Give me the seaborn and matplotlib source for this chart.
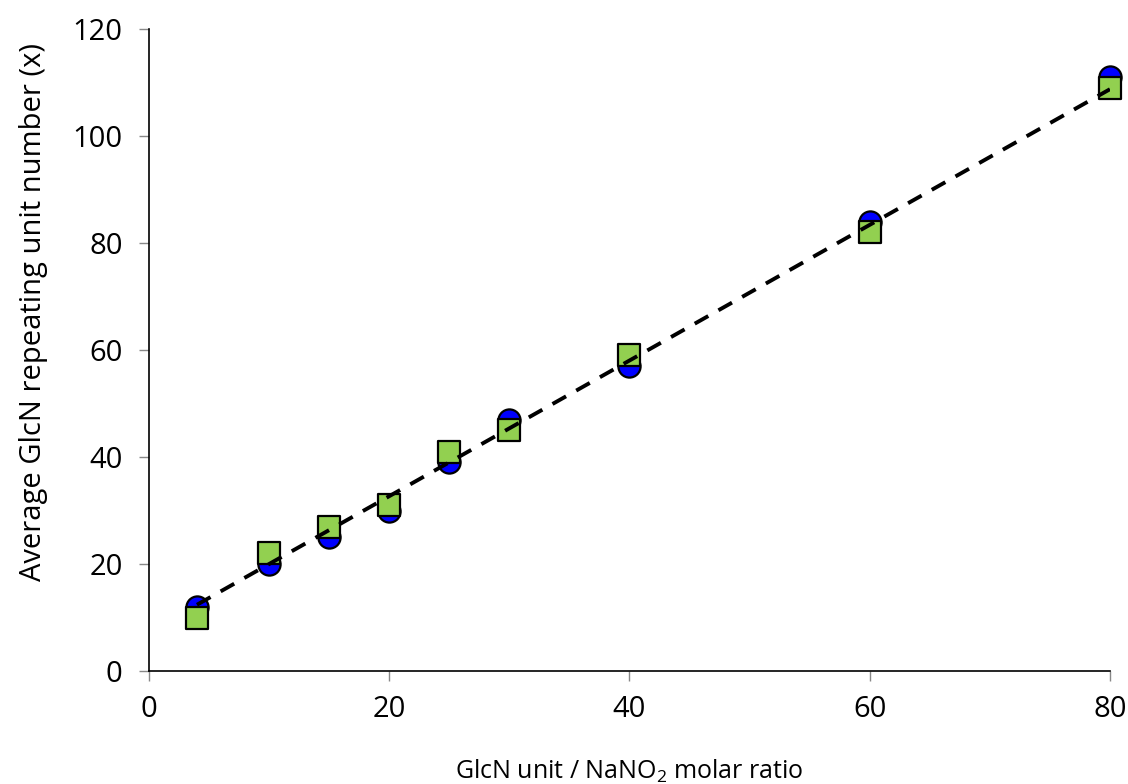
import matplotlib
matplotlib.use("Agg")
import matplotlib.pyplot as plt
import numpy as np
import pandas as pd
import seaborn as sns

# data
ratio = [4, 10, 15, 20, 25, 30, 40, 60, 80]
x_circle = [12, 20, 25, 30, 39, 47, 57, 84, 111]
x_square = [10, 22, 27, 31, 41, 45, 59, 82, 109]

df = pd.DataFrame({"ratio": ratio, "circle": x_circle, "square": x_square})

sns.set_style("ticks")
plt.rcParams["font.family"] = ["Open Sans", "DejaVu Sans"]
plt.rcParams["mathtext.default"] = "regular"

fig = plt.figure(figsize=(11.28, 7.84), dpi=100)
ax = fig.add_axes([0.132, 0.144, 0.852, 0.819])

sns.scatterplot(data=df, x="ratio", y="circle", ax=ax, marker="o", s=255,
                color="#0000ff", edgecolor="black", linewidth=1.6, zorder=3,
                clip_on=False)
sns.scatterplot(data=df, x="ratio", y="square", ax=ax, marker="s", s=250,
                color="#92d050", edgecolor="black", linewidth=1.6, zorder=4,
                clip_on=False)

# linear trend line through the square series
sns.regplot(data=df, x="ratio", y="square", ax=ax, scatter=False, ci=None,
            truncate=True,
            line_kws={"color": "black", "linestyle": (0, (4, 3)), "linewidth": 2.8,
                      "zorder": 5})

ax.set_xlim(0, 80)
ax.set_ylim(0, 120)
ax.set_xticks([0, 20, 40, 60, 80])
ax.set_yticks([0, 20, 40, 60, 80, 100, 120])
ax.tick_params(axis="both", direction="out", length=7, width=1, labelsize=21,
               color="#888888", labelcolor="black")
ax.tick_params(axis="y", pad=12)
ax.tick_params(axis="x", pad=10)
for side in ["top", "right"]:
    ax.spines[side].set_visible(False)
for side in ["left", "bottom"]:
    ax.spines[side].set_color("black")
    ax.spines[side].set_linewidth(1.2)

ax.set_xlabel("GlcN unit / NaNO$_2$ molar ratio", fontsize=18, color="black")
ax.xaxis.set_label_coords(0.5, -0.135)
ax.set_ylabel("Average GlcN repeating unit number (x)", fontsize=21, color="black")
ax.yaxis.set_label_coords(-0.105, 0.56)

fig.savefig("out.png", dpi=100)
